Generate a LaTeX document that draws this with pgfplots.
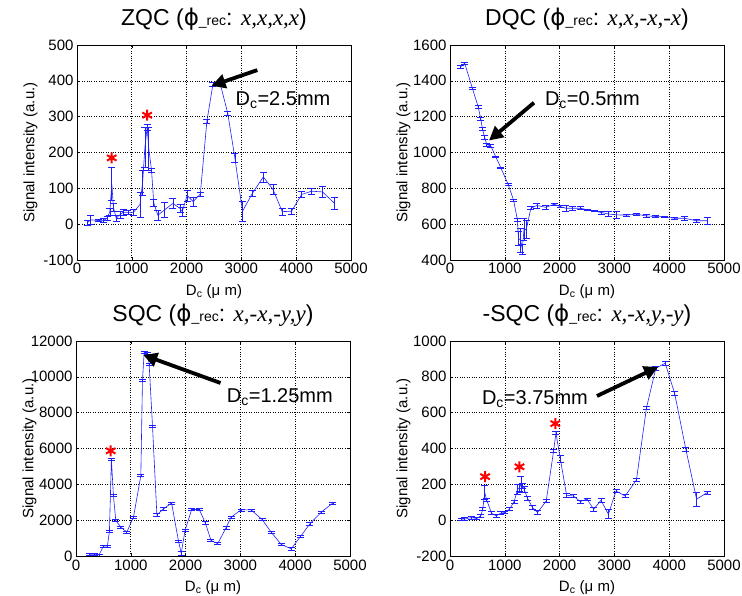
\documentclass[border=0pt]{standalone}
\usepackage{pgfplots}
\pgfplotsset{compat=1.18}
\usepackage{pgfplotstable}
\usepackage{fontspec}
\setmainfont{Liberation Sans}
\newfontfamily\serif{Liberation Serif}
\newfontfamily\phifont{DejaVu Sans}
\usetikzlibrary{arrows.meta}
\definecolor{mblue}{RGB}{30,30,255}

% x  y  err
\pgfplotstableread{
193 5 7
250 12 13
400 10 3
480 10 6
550 17 5
600 35 10
635 113 46
665 47 12
715 17 8
790 27 10
840 33 8
930 33 6
1030 33 8
1150 55 35
1197 116 35
1240 215 55
1280 270 8
1310 210 60
1360 151 5
1400 60 10
1475 25 15
1600 40 20
1750 58 14
1880 44 12
1920 35 12
2010 80 15
2120 63 12
2250 84 5
2370 287 5
2480 390 5
2610 394 5
2750 310 5
2880 186 12
3020 36 28
3200 86 8
3400 132 14
3580 96 14
3745 35 10
3915 36 8
4100 83 8
4280 92 8
4480 90 15
4700 58 17
}\zqc

\pgfplotstableread{
183 1476 8
268 1498 6
408 1359 6
512 1257 8
561 1189 8
591 1133 10
634 1083 12
670 1044 10
744 1037 8
835 976 5
927 915 5
1061 822 5
1159 735 5
1230 624 8
1250 520 40
1290 510 65
1320 460 30
1350 570 60
1390 570 50
1476 689 8
1585 704 15
1750 694 10
1902 711 8
2012 698 5
2116 689 15
2238 689 10
2378 689 8
2512 680 5
2634 674 5
2756 665 8
2890 657 12
3030 652 20
3226 650 5
3396 656 5
3579 646 8
3744 643 5
3915 641 5
4098 633 8
4280 633 12
4494 619 8
4695 619 20
}\dqc

\pgfplotstableread{
238 100 50
341 100 50
421 60 60
500 556 60
573 556 60
610 1389 60
646 5407 60
683 3370 60
726 1981 60
817 1611 60
927 1333 60
1049 2167 60
1183 4481 60
1213 9796 60
1244 11370 60
1305 11300 60
1335 10685 60
1396 7259 60
1476 2296 60
1598 2630 60
1744 2963 60
1870 836 60
1920 150 100
1990 1426 60
2110 2593 60
2250 2593 60
2360 1852 60
2463 870 60
2585 685 60
2738 1574 60
2829 2167 60
3012 2574 60
3195 2574 60
3396 2037 60
3561 1333 60
3744 648 60
3927 400 60
4098 1093 60
4268 1796 60
4475 2444 60
4689 2963 60
}\sqc

\pgfplotstableread{
207 6 6
270 6 8
390 15 8
488 9 6
561 24 6
598 61 8
634 154 40
670 113 10
756 39 8
841 24 10
927 39 8
1000 43 6
1085 61 8
1171 104 8
1232 172 30
1268 181 20
1293 200 45
1323 191 15
1354 172 15
1415 122 10
1506 70 12
1598 43 10
1756 107 8
1890 385 8
1933 487 10
2012 344 20
2128 139 12
2250 135 8
2378 104 8
2500 117 6
2622 61 12
2756 111 10
2890 33 25
3030 163 10
3195 135 8
3402 224 8
3585 626 10
3756 848 10
3927 876 10
4098 709 12
4305 394 10
4500 117 40
4695 154 8
}\msqc

\newcommand{\ttl}[2]{#1 ({\phifont ϕ}{\fontsize{14}{14}\selectfont\_rec}: {\serif\itshape #2})}

\pgfplotsset{
  panel/.style={
    scale only axis, width=274pt, height=215pt,
    xmin=0, xmax=5000, xtick={0,1000,...,5000},
    grid=major, grid style={dotted, black, line width=0.6pt},
    tick align=inside, major tick length=3pt,
    axis line style={black, line width=0.5pt},
    tick style={black, line width=0.5pt},
    ticklabel style={font=\fontsize{15}{16}\selectfont},
    /pgf/number format/1000 sep={},
    /pgf/number format/assume math mode=true,
    scaled ticks=false,
    xlabel={D\textsubscript{c} (μ m)},
    ylabel={Signal intensity (a.u.)},
    every axis x label/.style={at={(axis description cs:0.5,-0.165)}, anchor=base, font=\fontsize{15}{16}\selectfont},
    every axis y label/.style={at={(axis description cs:-0.17,0.5)}, rotate=90, anchor=center, font=\fontsize{15}{16}\selectfont},
    title style={at={(axis description cs:0.5,1)}, anchor=base, yshift=13pt, font=\fontsize{23}{25}\selectfont},
  },
  dat/.style={color=mblue, line width=0.6pt, mark=none,
    error bars/.cd, y dir=both, y explicit,
    error bar style={line width=0.6pt, mblue},
    error mark options={rotate=90, mblue, mark size=3.5pt, line width=0.6pt}},
  star/.style={only marks, mark=asterisk, red, mark size=5.5pt, line width=2pt},
}
\tikzset{
  arr/.style={-{Triangle[length=14pt,width=14pt]}, line width=3.8pt, black},
  ann/.style={anchor=west, font=\fontsize{20}{20}\selectfont},
}

\begin{document}
\begin{tikzpicture}
\useasboundingbox (0,0) rectangle (742pt,596pt);

% ZQC
\begin{axis}[panel, at={(77pt,336pt)}, anchor=south west,
  ymin=-100, ymax=500, ytick={-100,0,...,500},
  title={\ttl{ZQC}{x,x,x,x}}]
  \addplot[dat] table[x index=0, y index=1, y error index=2] {\zqc};
  \addplot[star] coordinates {(634,185) (1280,304)};
  \draw[arr] (axis cs:3290,430) -- (axis cs:2455,386);
  \node[ann] at (axis cs:2830,346) {D\textsubscript{c}=2.5mm};
\end{axis}

% DQC
\begin{axis}[panel, at={(450pt,336pt)}, anchor=south west,
  ymin=400, ymax=1600, ytick={400,600,...,1600},
  title={\ttl{DQC}{x,x,-x,-x}}]
  \addplot[dat] table[x index=0, y index=1, y error index=2] {\dqc};
  \draw[arr] (axis cs:1533,1278) -- (axis cs:712,1067);
  \node[ann] at (axis cs:1670,1294) {D\textsubscript{c}=0.5mm};
\end{axis}

% SQC
\begin{axis}[panel, at={(76pt,40pt)}, anchor=south west,
  ymin=0, ymax=12000, ytick={0,2000,...,12000},
  title={\ttl{SQC}{x,-x,-y,y}}]
  \addplot[dat] table[x index=0, y index=1, y error index=2] {\sqc};
  \addplot[star] coordinates {(634,5870)};
  \draw[arr] (axis cs:2637,9656) -- (axis cs:1227,11219);
  \node[ann] at (axis cs:2690,8874) {D\textsubscript{c}=1.25mm};
\end{axis}

% -SQC
\begin{axis}[panel, at={(450pt,40pt)}, anchor=south west,
  ymin=-200, ymax=1000, ytick={-200,0,...,1000},
  title={\ttl{-SQC}{x,-x,y,-y}}]
  \addplot[dat] table[x index=0, y index=1, y error index=2] {\msqc};
  \addplot[star] coordinates {(640,243) (1268,298) (1921,539)};
  \draw[arr] (axis cs:2682,693) -- (axis cs:3796,855);
  \node[ann] at (axis cs:520,676) {D\textsubscript{c}=3.75mm};
\end{axis}
\end{tikzpicture}
\end{document}
